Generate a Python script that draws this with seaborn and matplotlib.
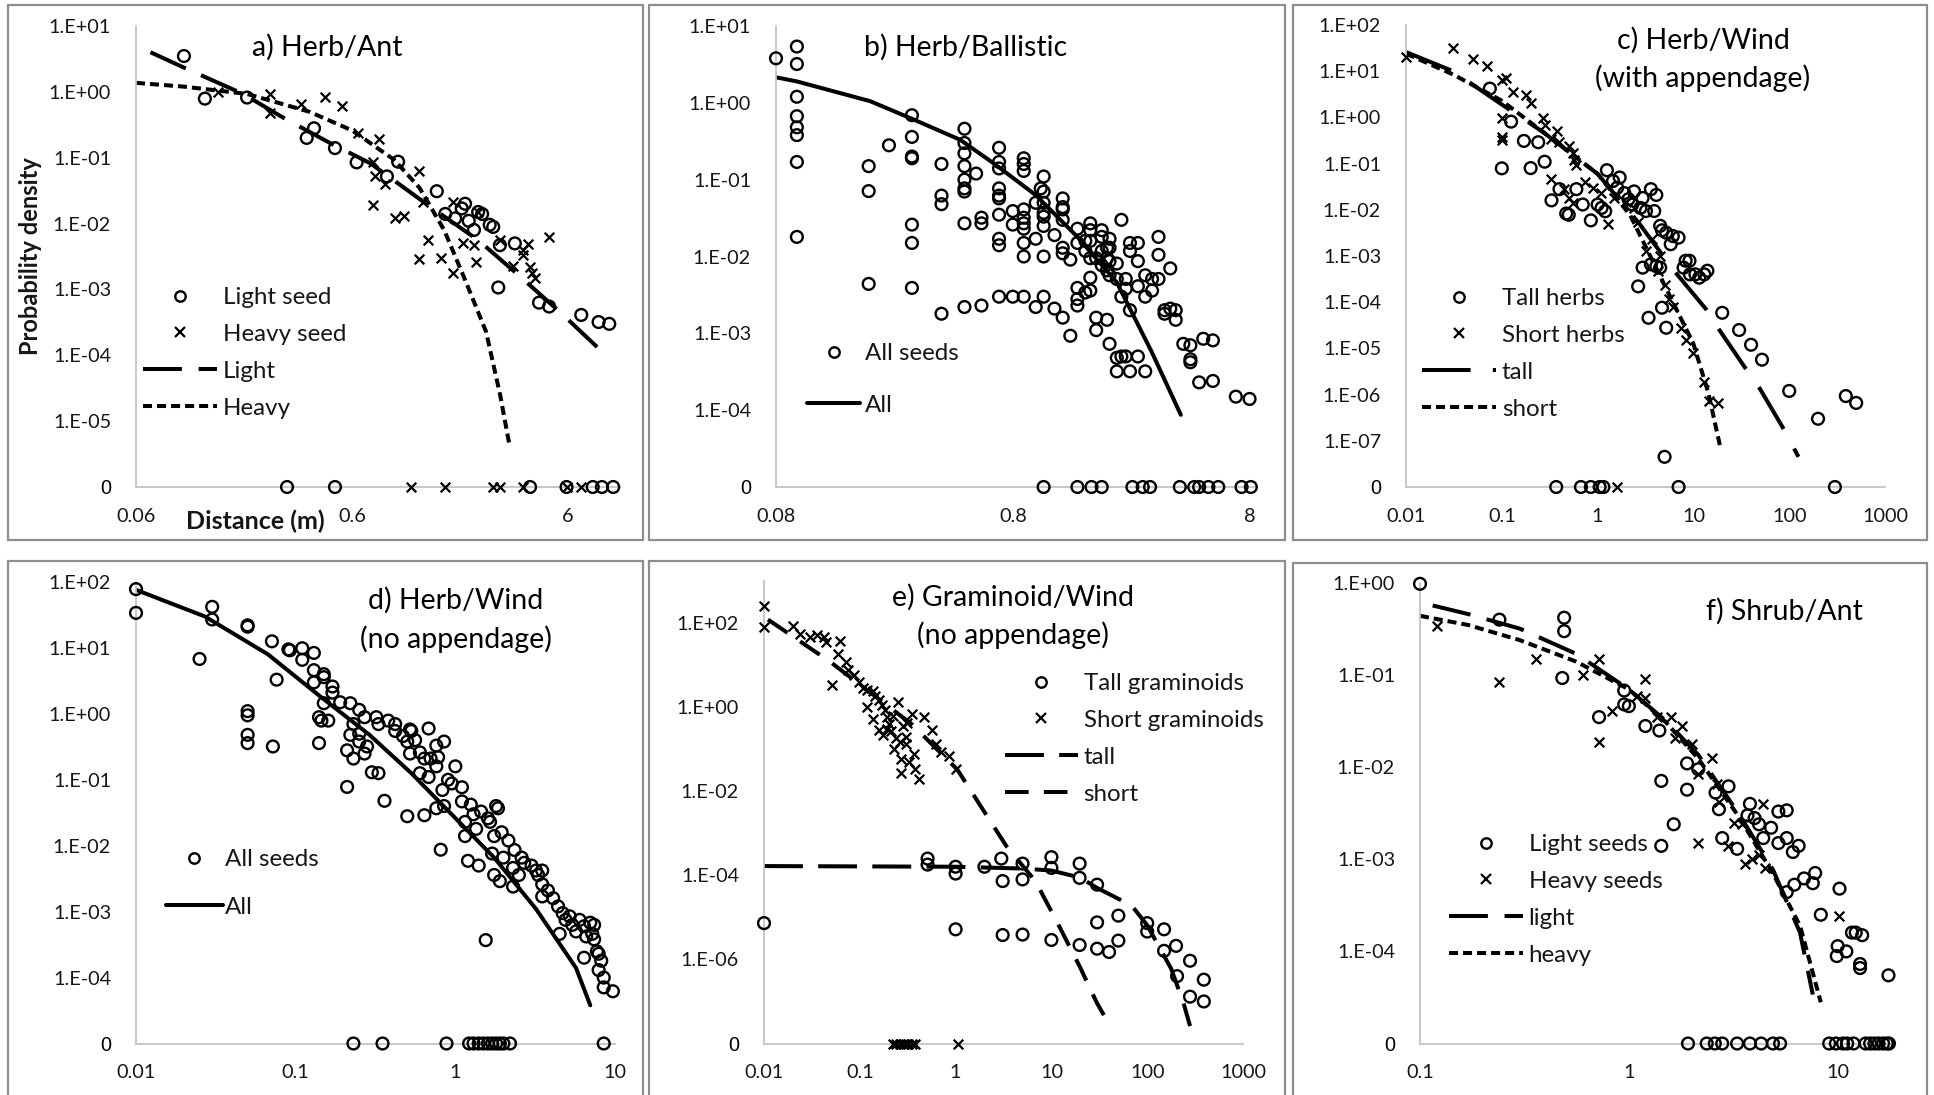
import numpy as np
import matplotlib
matplotlib.use("Agg")
import matplotlib.pyplot as plt
from matplotlib.lines import Line2D
from matplotlib.patches import Rectangle
import seaborn as sns

# ---------------- data ----------------
# a) Herb/Ant
A_LIGHT_X = [0.10, 0.125, 0.196, 0.37, 0.40, 0.50, 0.63, 0.87, 0.98, 1.48, 1.62, 1.8, 1.93, 2.0, 2.08,
             2.2, 2.3, 2.4, 2.6, 2.7, 2.85, 2.9, 3.4, 4.4, 4.9, 6.9, 8.3, 9.3]
A_LIGHT_Y = [3.5, 0.79, 0.82, 0.2, 0.28, 0.14, 0.085, 0.052, 0.087, 0.031, 0.014, 0.012, 0.017, 0.02, 0.011,
             0.008, 0.015, 0.014, 0.0096, 0.0089, 0.00107, 0.0047, 0.005, 0.00063, 0.00055, 0.00041, 0.00032, 0.0003]
A_HEAVY_X = [0.144, 0.25, 0.25, 0.35, 0.45, 0.54, 0.64, 0.8, 0.75, 0.77, 0.75, 0.85, 0.95, 1.04, 1.23,
             1.23, 1.35, 1.28, 1.55, 1.75, 1.75, 1.95, 2.2, 2.25, 2.3, 2.9, 3.35, 3.7, 3.9, 3.7,
             4.0, 4.1, 4.2, 4.9]
A_HEAVY_Y = [1.0, 0.93, 0.48, 0.65, 0.84, 0.6, 0.24, 0.19, 0.087, 0.052, 0.019, 0.04, 0.012, 0.013, 0.063,
             0.0029, 0.0056, 0.021, 0.003, 0.021, 0.0018, 0.005, 0.0047, 0.0026, 0.015, 0.0056, 0.0023, 0.004,
             0.0049, 0.0033, 0.0022, 0.0018, 0.0015, 0.0063]
A_LIGHT_ZERO = [0.3, 0.5, 4.0, 5.9, 7.8, 8.6, 9.7]
A_HEAVY_ZERO = [1.13, 1.62, 2.7, 2.9, 3.7, 5.9, 6.9]
A_FIT_LIGHT_X = [0.07, 0.101, 0.188, 0.29, 0.47, 0.73, 1.35, 2.3, 3.5, 5.6, 8.7]
A_FIT_LIGHT_Y = [4.0, 2.3, 0.93, 0.4, 0.17, 0.082, 0.019, 0.0056, 0.0017, 0.00043, 0.00011]
A_FIT_HEAVY_X = [0.06, 0.1, 0.196, 0.38, 0.6, 0.94, 1.23, 1.6, 2.0, 2.5, 2.9, 3.2]
A_FIT_HEAVY_Y = [1.37, 1.2, 0.93, 0.5, 0.26, 0.093, 0.035, 0.008, 0.0014, 0.00023, 2.6e-5, 4.6e-6]

# b) Herb/Ballistic (seeds share a handful of distances)
B_COL_X = [0.08, 0.098, 0.197, 0.24, 0.3, 0.4, 0.5, 0.56, 0.59, 0.7, 0.8, 0.89, 1.0, 1.05, 1.08, 1.2, 1.3,
           1.4, 1.5, 1.62, 1.7, 1.8, 1.9, 2.0, 2.05, 2.2, 2.3, 2.4, 2.5, 2.7, 2.9, 3.1, 3.3, 3.5, 3.7, 3.9,
           4.2, 4.5, 4.9, 5.1, 5.6, 7.0, 8.0]
B_COL_Y = [[3.8], [5.4, 3.2, 1.2, 0.67, 0.48, 0.38, 0.17, 0.018], [0.15, 0.071, 0.0044], [0.28],
           [0.69, 0.36, 0.2, 0.19, 0.026, 0.015, 0.0039], [0.16, 0.062, 0.048, 0.0018],
           [0.46, 0.3, 0.22, 0.15, 0.1, 0.077, 0.07, 0.027, 0.0022], [0.12], [0.032, 0.027, 0.0023],
           [0.26, 0.17, 0.14, 0.077, 0.062, 0.057, 0.035, 0.017, 0.014, 0.003], [0.039, 0.026, 0.003],
           [0.19, 0.16, 0.13, 0.041, 0.032, 0.027, 0.023, 0.015, 0.01, 0.003], [0.05, 0.017, 0.0022], [0.077],
           [0.11, 0.07, 0.05, 0.037, 0.033, 0.025, 0.01, 0.003], [0.019, 0.0021],
           [0.057, 0.044, 0.041, 0.03, 0.013, 0.011, 0.0016], [0.0091, 0.00093],
           [0.023, 0.015, 0.0039, 0.0028, 0.0023], [0.016, 0.0118, 0.0034],
           [0.027, 0.022, 0.016, 0.0095, 0.0053, 0.0036], [0.0095, 0.0016, 0.0011],
           [0.022, 0.018, 0.0118, 0.0077], [0.013, 0.0095, 0.0066, 0.0015],
           [0.017, 0.013, 0.0087, 0.0057, 0.00073], [0.0081, 0.0051, 0.00048, 0.00032], [0.03, 0.003, 0.0005],
           [0.0051, 0.0038, 0.0005], [0.015, 0.0118, 0.002, 0.00032], [0.015, 0.0087, 0.0041, 0.0005],
           [0.0057, 0.003, 0.00032], [0.0051, 0.0036], [0.018, 0.0105, 0.0051], [0.002, 0.0018],
           [0.007, 0.0021], [0.002, 0.0015], [0.00073], [0.0007, 0.00046, 0.00042], [0.00023], [0.00085],
           [0.00081, 0.00024], [0.00015], [0.00014]]
B_ZERO = [1.08, 1.5, 1.72, 1.9, 2.56, 2.83, 3.04, 4.06, 4.67, 4.9, 5.36, 5.9, 7.4, 8.1]
B_FIT_X = [0.08, 0.098, 0.2, 0.3, 0.48, 0.67, 1.0, 1.5, 2.2, 3.1, 4.1]
B_FIT_Y = [2.15, 1.9, 1.05, 0.62, 0.33, 0.16, 0.063, 0.018, 0.0046, 0.00056, 8.7e-5]

# c) Herb/Wind (with appendage)
C_TALL_X = [0.075, 0.125, 0.17, 0.1, 0.2, 0.24, 0.28, 0.33, 0.4, 0.47, 0.5, 0.6, 0.7, 0.85, 1.0, 1.1, 1.2,
            1.25, 1.45, 1.7, 1.6, 1.9, 2.1, 2.3, 2.4, 2.8, 2.95, 3.2, 3.6, 4.1, 3.9, 4.5, 4.7, 5.2, 6.1, 7.0,
            5.8, 2.95, 3.6, 4.1, 4.5, 2.65, 3.4, 4.7, 5.2, 8.3, 9.1, 7.9, 9.2, 10.5, 11.5, 13, 14, 20, 30,
            40, 52, 100, 200, 390, 500, 5.0]
C_TALL_Y = [4.2, 0.81, 0.31, 0.079, 0.08, 0.29, 0.11, 0.016, 0.028, 0.0083, 0.0078, 0.028, 0.013, 0.0059,
            0.013, 0.011, 0.0093, 0.072, 0.042, 0.05, 0.03, 0.023, 0.017, 0.013, 0.025, 0.011, 0.018, 0.0094,
            0.028, 0.021, 0.0094, 0.0045, 0.0036, 0.0032, 0.0027, 0.0025, 0.0018, 0.00056, 0.00066, 0.0006,
            0.00056, 0.00022, 4.6e-5, 7.6e-5, 2.8e-5, 0.00079, 0.00079, 0.00056, 0.0004, 0.0004, 0.00034,
            0.0004, 0.00048, 5.9e-5, 2.5e-5, 1.2e-5, 5.7e-6, 1.2e-6, 3e-7, 9.3e-7, 6.6e-7, 4.5e-8]
C_SHORT_X = [0.01, 0.031, 0.05, 0.07, 0.1, 0.11, 0.13, 0.18, 0.2, 0.1, 0.1, 0.1, 0.27, 0.28, 0.38, 0.33, 0.4,
             0.5, 0.55, 0.57, 0.6, 0.33, 0.45, 0.5, 0.55, 0.73, 0.9, 1.08, 1.27, 1.5, 2.0, 2.4, 2.65, 3.2,
             3.7, 4.5, 4.3, 5.0, 5.5, 6.1, 7.5, 8.3, 10, 13, 14.5, 18]
C_SHORT_Y = [20, 31, 18, 13, 6.5, 7, 3.5, 3, 2, 0.95, 0.37, 0.32, 0.95, 0.68, 0.5, 0.34, 0.29, 0.24, 0.17,
             0.12, 0.094, 0.047, 0.028, 0.018, 0.014, 0.04, 0.03, 0.023, 0.005, 0.018, 0.015, 0.011, 0.0055,
             0.0013, 0.0023, 0.001, 0.00048, 0.00024, 0.00012, 7.8e-5, 2.8e-5, 1.5e-5, 8.1e-6, 1.9e-6,
             7.3e-7, 6.7e-7]
C_TALL_ZERO = [0.37, 0.67, 0.85, 1.05, 1.15, 7.0, 300]
C_SHORT_ZERO = [1.6]
C_FIT_TALL_X = [0.01, 0.031, 0.1, 0.27, 1.0, 2.65, 6.5, 13.6, 18, 35, 47, 85, 125]
C_FIT_TALL_Y = [26, 10, 1.9, 0.48, 0.06, 0.0054, 0.00044, 7e-5, 2.8e-5, 3.7e-6, 1.6e-6, 2e-7, 4.5e-8]
C_FIT_SHORT_X = [0.01, 0.031, 0.1, 0.27, 1.0, 2.2, 4.4, 10, 14.3, 19]
C_FIT_SHORT_Y = [24, 8.5, 2.3, 0.48, 0.06, 0.0075, 0.0004, 1.26e-5, 1.1e-6, 7.6e-8]

# d) Herb/Wind (no appendage)
D_SEED_X = [0.01, 0.01, 0.025, 0.03, 0.03, 0.05, 0.05, 0.05, 0.05, 0.05, 0.05, 0.071, 0.076, 0.072, 0.09,
            0.092, 0.11, 0.11, 0.13, 0.13, 0.13, 0.15, 0.15, 0.17, 0.17, 0.15, 0.14, 0.145, 0.16, 0.14, 0.19,
            0.22, 0.21, 0.25, 0.27, 0.23, 0.25, 0.22, 0.25, 0.23, 0.21, 0.28, 0.27, 0.3, 0.33, 0.36, 0.32,
            0.33, 0.38, 0.42, 0.42, 0.47, 0.53, 0.5, 0.52, 0.56, 0.52, 0.6, 0.5, 0.64, 0.68, 0.6, 0.68, 0.7,
            0.76, 0.85, 0.64, 0.76, 0.78, 0.83, 0.81, 0.76, 0.85, 0.9, 0.95, 1.0, 1.1, 1.1, 1.15, 1.15, 1.25,
            1.2, 1.3, 1.35, 1.4, 1.45, 1.6, 1.55, 1.65, 1.75, 1.8, 1.85, 1.7, 1.75, 1.9, 1.95, 2.0, 2.15, 2.3,
            2.35, 2.3, 2.5, 2.6, 2.7, 3.0, 3.2, 3.3, 3.5, 3.5, 3.8, 3.5, 4.1, 4.4, 4.7, 4.5, 4.9, 5.4, 5.2,
            5.7, 6.0, 6.4, 6.6, 6.4, 7.0, 7.4, 7.2, 7.4, 7.7, 7.9, 8.2, 7.9, 8.5, 8.5, 9.7]
D_SEED_Y = [78, 34, 6.8, 42, 27, 22, 21, 1.1, 0.95, 0.48, 0.36, 12.6, 3.3, 0.32, 9.5, 9.2, 9.9, 6.6, 8.4, 4.6,
            3.0, 4.0, 3.6, 2.6, 2.1, 1.45, 0.89, 0.79, 0.79, 0.36, 1.5, 1.45, 0.078, 1.15, 0.89, 0.7, 0.5,
            0.48, 0.38, 0.21, 0.28, 0.32, 0.25, 0.13, 0.126, 0.048, 0.89, 0.7, 0.79, 0.7, 0.55, 0.46, 0.55,
            0.38, 0.58, 0.4, 0.25, 0.26, 0.028, 0.21, 0.6, 0.126, 0.11, 0.21, 0.33, 0.38, 0.029, 0.16, 0.22,
            0.07, 0.0087, 0.037, 0.04, 0.1, 0.088, 0.16, 0.047, 0.077, 0.023, 0.014, 0.042, 0.0059, 0.03,
            0.018, 0.005, 0.033, 0.026, 0.00037, 0.023, 0.014, 0.04, 0.037, 0.0076, 0.0036, 0.0029, 0.016,
            0.0066, 0.012, 0.0046, 0.0086, 0.0024, 0.0036, 0.0066, 0.0055, 0.005, 0.0042, 0.0036, 0.0042,
            0.0026, 0.0021, 0.0017, 0.0016, 0.0012, 0.00095, 0.00046, 0.00075, 0.00063, 0.00085, 0.0005,
            0.00075, 0.0006, 0.00042, 0.0002, 0.00068, 0.00063, 0.00046, 0.00038, 0.00025, 0.00023, 0.00018,
            0.00013, 0.0001, 7.1e-5, 6.2e-5]
D_ZERO = [0.23, 0.35, 0.88, 1.22, 1.3, 1.4, 1.5, 1.6, 1.7, 1.8, 1.9, 2.0, 2.2, 8.5]
D_FIT_X = [0.01, 0.027, 0.067, 0.144, 0.29, 0.53, 0.96, 1.75, 3.2, 5.7, 7.0]
D_FIT_Y = [76, 30, 8, 1.8, 0.48, 0.126, 0.029, 0.0066, 0.0011, 0.00014, 3.8e-5]

# e) Graminoid/Wind (no appendage)
E_TALL_X = [0.01, 0.51, 0.51, 1.0, 1.0, 1.0, 2.0, 3.0, 3.1, 3.1, 5.0, 5.0, 5.0, 10, 10, 10, 19.7, 19.7, 19.7,
            30, 30, 30, 40, 50, 50, 100, 100, 150, 150, 200, 205, 280, 280, 390, 390]
E_TALL_Y = [7.3e-6, 2.5e-4, 1.8e-4, 1.6e-4, 1.1e-4, 5.2e-6, 1.6e-4, 2.5e-4, 7.3e-5, 3.8e-6, 1.9e-4, 8e-5,
            3.9e-6, 2.7e-4, 1.5e-4, 2.9e-6, 1.9e-4, 8.7e-5, 2.2e-6, 6e-5, 7.6e-6, 1.8e-6, 1.5e-6, 1.1e-5,
            2.8e-6, 7.3e-6, 4.6e-6, 5.2e-6, 1.6e-6, 2.1e-6, 4e-7, 9.3e-7, 1.3e-7, 3.3e-7, 1.0e-7]
E_SHORT_X = [0.01, 0.01, 0.02, 0.051, 0.062, 0.059, 0.072, 0.076, 0.088, 0.097, 0.107, 0.118, 0.137, 0.144,
             0.159, 0.17, 0.185, 0.194, 0.2, 0.137, 0.159, 0.175, 0.21, 0.24, 0.25, 0.26, 0.27, 0.27, 0.3,
             0.31, 0.33, 0.35, 0.37, 0.38, 0.41, 0.47, 0.57, 0.63, 0.7, 0.85, 1.0, 0.024, 0.03, 0.036, 0.042,
             0.044, 0.22, 0.28, 0.19, 0.3, 0.23, 0.12]
E_SHORT_Y = [260, 79, 86, 3.3, 37, 18, 12, 7.6, 5.7, 3.9, 2.9, 2.6, 2.4, 1.8, 1.5, 1.1, 0.85, 0.57, 0.39,
             0.52, 0.29, 0.22, 0.27, 0.18, 1.35, 0.15, 0.058, 0.027, 0.13, 0.43, 0.049, 0.7, 0.078, 0.034,
             0.02, 0.58, 0.29, 0.13, 0.085, 0.07, 0.034, 56, 47, 51, 47, 35, 0.6, 0.35, 0.3, 0.2, 0.1, 1.0]
E_SHORT_ZERO = [0.22, 0.24, 0.26, 0.28, 0.3, 0.32, 0.35, 0.38, 1.05]
E_FIT_TALL_X = [0.01, 1.0, 5, 10, 20, 30, 69, 100, 178, 240, 280]
E_FIT_TALL_Y = [1.66e-4, 1.6e-4, 1.45e-4, 1.3e-4, 8.8e-5, 5e-5, 1.9e-5, 6.5e-6, 6e-7, 9e-8, 2.6e-8]
E_FIT_SHORT_X = [0.011, 0.049, 0.35, 1.04, 2.1, 3.4, 6.8, 11.1, 20, 30, 40]
E_FIT_SHORT_Y = [121, 12, 0.39, 0.033, 2.7e-3, 4.9e-4, 7.3e-5, 8.9e-6, 6.4e-7, 9e-8, 2.9e-8]

# f) Shrub/Ant
F_LIGHT_X = [0.1, 0.24, 0.49, 0.49, 0.48, 0.72, 0.95, 0.95, 1.0, 1.2, 1.4, 1.43, 1.64, 1.43, 1.9, 1.9, 2.15,
             2.6, 2.7, 3.0, 2.8, 3.3, 3.7, 3.8, 4.0, 4.2, 4.4, 4.8, 5.2, 5.2, 5.7, 5.7, 6.1, 6.5, 5.7, 6.2,
             6.9, 7.8, 7.6, 8.3, 10.2, 10.0, 9.9, 11, 11.7, 12.2, 13.1, 12.8, 12.8, 17.5]
F_LIGHT_Y = [0.98, 0.4, 0.42, 0.3, 0.093, 0.035, 0.068, 0.048, 0.046, 0.028, 0.025, 0.0071, 0.0024, 0.0014,
             0.011, 0.0057, 0.0095, 0.0053, 0.0035, 0.0062, 0.0017, 0.0013, 0.003, 0.004, 0.0028, 0.0024,
             0.0017, 0.0022, 0.0015, 0.0033, 0.0034, 0.0017, 0.0012, 0.0014, 0.00044, 0.00053, 0.00062,
             0.00071, 0.00055, 0.00025, 0.00048, 0.000114, 8.9e-5, 0.0001, 0.00016, 0.00016, 0.00015,
             7.3e-5, 6.6e-5, 5.5e-5]
F_HEAVY_X = [0.12, 0.24, 0.36, 0.6, 0.72, 0.72, 0.83, 1.1, 1.2, 1.2, 1.37, 1.6, 1.67, 1.8, 2.0, 2.15, 2.5,
             2.65, 2.7, 3.2, 3.0, 2.15, 3.5, 3.6, 3.9, 4.2, 4.4, 4.5, 10.2]
F_HEAVY_Y = [0.34, 0.085, 0.15, 0.1, 0.15, 0.019, 0.041, 0.06, 0.09, 0.057, 0.035, 0.035, 0.021, 0.028,
             0.018, 0.0084, 0.0125, 0.0065, 0.0042, 0.0025, 0.0014, 0.0015, 0.0024, 0.0009, 0.001, 0.0011,
             0.004, 0.0008, 0.00024]
F_LIGHT_ZERO = [1.92, 2.36, 2.58, 2.8, 3.3, 3.8, 4.3, 4.9, 5.3, 9.1, 9.8, 10.6, 11.1, 11.9, 13.6, 14.3, 15.0,
                15.7, 16.5, 17.2, 17.6]
F_FIT_LIGHT_X = [0.115, 0.17, 0.3, 0.56, 1.0, 1.5, 2.15, 3.4, 4.9, 6.6, 7.6]
F_FIT_LIGHT_Y = [0.57, 0.46, 0.32, 0.17, 0.07, 0.032, 0.0136, 0.003, 0.00077, 0.00016, 3.4e-5]
F_FIT_HEAVY_X = [0.1, 0.17, 0.3, 0.56, 1.0, 1.5, 2.15, 3.4, 4.9, 6.6, 8.3]
F_FIT_HEAVY_Y = [0.44, 0.35, 0.24, 0.14, 0.07, 0.031, 0.0124, 0.0028, 0.0007, 0.00019, 2.8e-5]

# axis tick labels
A_XTICKS, A_XLABELS = [0.06, 0.6, 6], ["0.06", "0.6", "6"]
B_XTICKS, B_XLABELS = [0.08, 0.8, 8], ["0.08", "0.8", "8"]
WIDE_XTICKS, WIDE_XLABELS = [0.01, 0.1, 1, 10, 100, 1000], ["0.01", "0.1", "1", "10", "100", "1000"]
D_XTICKS, D_XLABELS = [0.01, 0.1, 1, 10], ["0.01", "0.1", "1", "10"]
F_XTICKS, F_XLABELS = [0.1, 1, 10], ["0.1", "1", "10"]

# ---------------- drawing ----------------
W, H = 1934, 1095
sns.set_theme(style="white")
plt.rcParams['font.family'] = ['Lato', 'DejaVu Sans']
plt.rcParams['lines.scale_dashes'] = False

fig = plt.figure(figsize=(W / 100, H / 100), dpi=100)

LONG_DASH = (0, (28, 12))
SHORT_DASH = (0, (6.5, 3.6))
C_TALL_DASH = (0, (35, 16))
E_TALL_DASH = (0, (28, 11))
E_SHORT_DASH = (0, (17, 11))
LW = 2.9
AXIS_GREY = '#c4c4c4'
TXT = '#161616'


def new_axes(left, top, right, bottom):
    ax = fig.add_axes([left / W, 1 - bottom / H, (right - left) / W, (bottom - top) / H])
    ax.set_xscale('log')
    ax.set_yscale('log')
    return ax


def circles(ax, x, y):
    sns.scatterplot(x=x, y=y, ax=ax, marker='o', s=72, facecolor='none', edgecolor='black',
                    linewidth=1.7, clip_on=False, zorder=3)


def crosses(ax, x, y):
    sns.scatterplot(x=x, y=y, ax=ax, marker='x', s=48, color='black', linewidth=1.6,
                    clip_on=False, zorder=3)


def fit(ax, x, y, dash):
    sns.lineplot(x=x, y=y, ax=ax, color='black', linewidth=LW, linestyle=dash,
                 estimator=None, sort=False, zorder=2)


def finish(ax, xlim, xticks, xlabels, y_exps, zero_exp, ytop):
    ax.set_xlim(*xlim)
    ax.set_ylim(10.0 ** zero_exp, ytop)
    ax.set_xticks(xticks)
    ax.set_xticklabels(xlabels)
    ax.set_yticks([10.0 ** e for e in y_exps] + [10.0 ** zero_exp])
    ax.set_yticklabels([f"1.E{e:+03d}" for e in y_exps] + ["0"])
    ax.minorticks_off()
    for s in ['top', 'right']:
        ax.spines[s].set_visible(False)
    for s in ['left', 'bottom']:
        ax.spines[s].set_color(AXIS_GREY)
        ax.spines[s].set_linewidth(1.3)
    ax.tick_params(axis='y', direction='out', length=5, width=1, color=AXIS_GREY, pad=13,
                   labelsize=14.3, labelcolor=TXT)
    ax.tick_params(axis='x', direction='in', length=6, width=1, color=AXIS_GREY, pad=15,
                   labelsize=14.3, labelcolor=TXT)
    zl = ax.get_yticklabels()[-1]
    zl.set_fontfamily(['Liberation Sans'])
    zl.set_color('black')
    ax.set_facecolor('none')


def legend(ax, handles, labels, left, top, hlen, spacing, pad=0.25):
    ax.legend(handles=handles, labels=labels, loc='upper left', bbox_to_anchor=(left / W, 1 - top / H),
              bbox_transform=fig.transFigure, frameon=False, borderpad=0, borderaxespad=0,
              handlelength=hlen, handletextpad=pad, labelspacing=spacing, fontsize=17.4,
              labelcolor=TXT)


def h_circle():
    return Line2D([0], [0], marker='o', ls='none', mfc='none', mec='black', ms=7.5, mew=1.7)


def h_cross():
    return Line2D([0], [0], marker='x', ls='none', color='black', ms=7, mew=1.6)


def h_line(dash):
    return Line2D([0], [0], color='black', lw=LW, ls=dash)


def title(x, y, s):
    fig.text(x / W, 1 - y / H, s, ha='center', va='center', fontsize=20.5, color='black')


def zeros_of(vals, exp):
    return np.full(len(vals), 10.0 ** exp)


# panel frames
for (x0, y0, x1, y1) in [(8, 5, 643, 540), (649, 5, 1285, 540), (1293, 5, 1927, 540),
                         (8, 561, 643, 1100), (649, 561, 1285, 1100), (1293, 563, 1927, 1100)]:
    fig.add_artist(Rectangle((x0 / W, 1 - y1 / H), (x1 - x0) / W, (y1 - y0) / H,
                             transform=fig.transFigure, fill=False, ec='#8e8e8e', lw=1.6))

# a) Herb/Ant
ax = new_axes(136, 26, 617, 487)
circles(ax, A_LIGHT_X, A_LIGHT_Y)
crosses(ax, A_HEAVY_X, A_HEAVY_Y)
circles(ax, A_LIGHT_ZERO, zeros_of(A_LIGHT_ZERO, -6))
crosses(ax, A_HEAVY_ZERO, zeros_of(A_HEAVY_ZERO, -6))
fit(ax, A_FIT_LIGHT_X, A_FIT_LIGHT_Y, LONG_DASH)
fit(ax, A_FIT_HEAVY_X, A_FIT_HEAVY_Y, SHORT_DASH)
finish(ax, (0.06, 10.1), A_XTICKS, A_XLABELS, [1, 0, -1, -2, -3, -4, -5], -6, 10)
legend(ax, [h_circle(), h_cross(), h_line(LONG_DASH), h_line(SHORT_DASH)],
       ["Light seed", "Heavy seed", "Light", "Heavy"], 143, 287, 3.05, 0.66)
title(327, 47, "a) Herb/Ant")
fig.text(31 / W, 1 - 256 / H, "Probability density", rotation=90, ha='center', va='center',
         fontsize=17, fontweight='bold', color=TXT)
fig.text(255 / W, 1 - 521 / H, "Distance (m)", ha='center', va='center', fontsize=18,
         fontweight='bold', color=TXT)

# b) Herb/Ballistic
B_SEED_X = [x for x, ys in zip(B_COL_X, B_COL_Y) for _ in ys]
B_SEED_Y = [y for ys in B_COL_Y for y in ys]
ax = new_axes(776, 26, 1257, 487)
circles(ax, B_SEED_X, B_SEED_Y)
circles(ax, B_ZERO, zeros_of(B_ZERO, -5))
fit(ax, B_FIT_X, B_FIT_Y, '-')
finish(ax, (0.08, 8.6), B_XTICKS, B_XLABELS, [1, 0, -1, -2, -3, -4], -5, 10)
legend(ax, [h_circle(), h_line('-')], ["All seeds", "All"], 807, 343, 2.2, 1.27, 0.2)
title(966, 47, "b) Herb/Ballistic")

# c) Herb/Wind (with appendage)
ax = new_axes(1406, 25, 1885, 487)
circles(ax, C_TALL_X, C_TALL_Y)
crosses(ax, C_SHORT_X, C_SHORT_Y)
circles(ax, C_TALL_ZERO, zeros_of(C_TALL_ZERO, -8))
crosses(ax, C_SHORT_ZERO, zeros_of(C_SHORT_ZERO, -8))
fit(ax, C_FIT_TALL_X, C_FIT_TALL_Y, C_TALL_DASH)
fit(ax, C_FIT_SHORT_X, C_FIT_SHORT_Y, SHORT_DASH)
finish(ax, (0.01, 1000), WIDE_XTICKS, WIDE_XLABELS, [2, 1, 0, -1, -2, -3, -4, -5, -6, -7], -8, 100)
legend(ax, [h_circle(), h_cross(), h_line(C_TALL_DASH), h_line(SHORT_DASH)],
       ["Tall herbs", "Short herbs", "tall", "short"], 1422, 288, 3.05, 0.66)
title(1703, 40, "c) Herb/Wind")
title(1703, 78, "(with appendage)")

# d) Herb/Wind (no appendage)
ax = new_axes(136, 582, 615, 1043.5)
circles(ax, D_SEED_X, D_SEED_Y)
circles(ax, D_ZERO, zeros_of(D_ZERO, -5))
fit(ax, D_FIT_X, D_FIT_Y, '-')
finish(ax, (0.01, 10), D_XTICKS, D_XLABELS, [2, 1, 0, -1, -2, -3, -4], -5, 100)
legend(ax, [h_circle(), h_line('-')], ["All seeds", "All"], 166, 849, 2.35, 1.1, 0.1)
title(456, 600, "d) Herb/Wind")
title(456, 639, "(no appendage)")

# e) Graminoid/Wind (no appendage)
ax = new_axes(764, 581, 1243, 1043.5)
circles(ax, E_TALL_X, E_TALL_Y)
crosses(ax, E_SHORT_X, E_SHORT_Y)
crosses(ax, E_SHORT_ZERO, zeros_of(E_SHORT_ZERO, -8))
fit(ax, E_FIT_TALL_X, E_FIT_TALL_Y, E_TALL_DASH)
fit(ax, E_FIT_SHORT_X, E_FIT_SHORT_Y, E_SHORT_DASH)
finish(ax, (0.01, 1000), WIDE_XTICKS, WIDE_XLABELS, [2, 0, -2, -4, -6], -8, 1000)
legend(ax, [h_circle(), h_cross(), h_line(E_TALL_DASH), h_line(E_SHORT_DASH)],
       ["Tall graminoids", "Short graminoids", "tall", "short"], 1005, 673, 3.0, 0.66)
title(1013, 597, "e) Graminoid/Wind")
title(1013, 635, "(no appendage)")

# f) Shrub/Ant
ax = new_axes(1420, 583, 1893, 1043.5)
circles(ax, F_LIGHT_X, F_LIGHT_Y)
crosses(ax, F_HEAVY_X, F_HEAVY_Y)
circles(ax, F_LIGHT_ZERO, zeros_of(F_LIGHT_ZERO, -5))
fit(ax, F_FIT_LIGHT_X, F_FIT_LIGHT_Y, LONG_DASH)
fit(ax, F_FIT_HEAVY_X, F_FIT_HEAVY_Y, SHORT_DASH)
finish(ax, (0.1, 18.4), F_XTICKS, F_XLABELS, [0, -1, -2, -3, -4], -5, 1)
legend(ax, [h_circle(), h_cross(), h_line(LONG_DASH), h_line(SHORT_DASH)],
       ["Light seeds", "Heavy seeds", "light", "heavy"], 1449, 834, 3.05, 0.66)
title(1784, 611, "f) Shrub/Ant")

fig.savefig("out.png", dpi=100, facecolor='white')
